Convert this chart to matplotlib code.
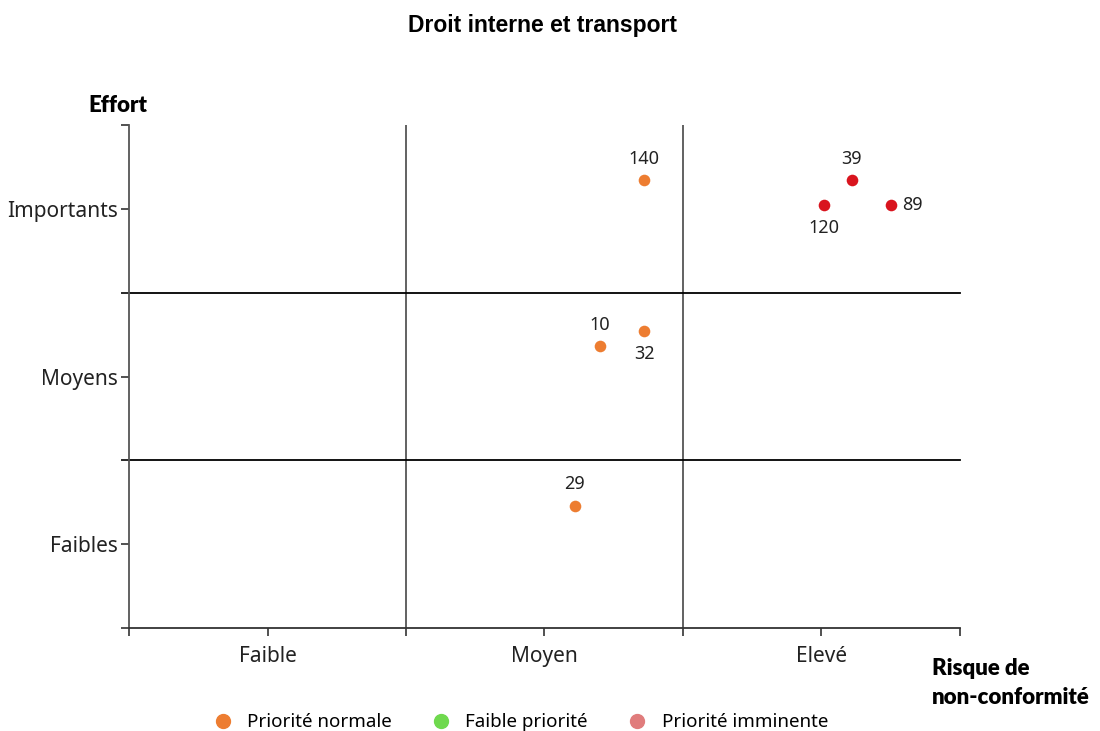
import matplotlib
import matplotlib.pyplot as plt
from matplotlib.lines import Line2D

matplotlib.use('agg')

# data
risk_labels = ['Faible', 'Moyen', 'Elevé']
effort_labels = ['Faibles', 'Moyens', 'Importants']
point_ids = ['140', '39', '120', '89', '10', '32', '29']
point_x = [1.86, 2.61, 2.51, 2.75, 1.70, 1.86, 1.61]
point_y = [2.67, 2.67, 2.52, 2.52, 1.68, 1.77, 0.73]
point_priority = ['normale', 'imminente', 'imminente', 'imminente', 'normale', 'normale', 'normale']
label_pos = ['above', 'above', 'below', 'right', 'above', 'below', 'above']
legend_labels = ['Priorité normale', 'Faible priorité', 'Priorité imminente']

marker_colors = {'normale': '#ED7D31', 'imminente': '#D9141E'}
legend_colors = ['#ED7D31', '#6FD94E', '#E07C7C']

plt.rcParams['font.family'] = ['Noto Sans', 'DejaVu Sans']
BOLD = ['Lato', 'DejaVu Sans']

fig = plt.figure(figsize=(11, 7.31), dpi=100)
ax = fig.add_axes([0.1173, 0.1409, 0.7554, 0.6881])

ax.set_xlim(0, 3)
ax.set_ylim(0, 3)

for v in [1, 2]:
    ax.axvline(v, color='#555555', lw=1.3, zorder=1)
for v in [1, 2]:
    ax.plot([-0.025, 3], [v, v], color='black', lw=1.3, clip_on=False, zorder=1)

for x, y, name, prio, pos in zip(point_x, point_y, point_ids, point_priority, label_pos):
    ax.scatter(x, y, s=70, color=marker_colors[prio], zorder=3, linewidths=0)
    if pos == 'above':
        ax.annotate(name, (x, y), xytext=(0, 9), textcoords='offset points',
                    ha='center', va='bottom', fontsize=13, color='#222222')
    elif pos == 'below':
        ax.annotate(name, (x, y), xytext=(0, -10), textcoords='offset points',
                    ha='center', va='top', fontsize=13, color='#222222')
    else:
        ax.annotate(name, (x, y), xytext=(8, 0), textcoords='offset points',
                    ha='left', va='center', fontsize=13, color='#222222')

ax.set_xticks([0, 0.5, 1, 1.5, 2, 2.5, 3])
ax.set_xticklabels(['', risk_labels[0], '', risk_labels[1], '', risk_labels[2], ''])
ax.set_yticks([0, 0.5, 1, 1.5, 2, 2.5, 3])
ax.set_yticklabels(['', effort_labels[0], '', effort_labels[1], '', effort_labels[2], ''])
ax.tick_params(axis='both', length=6, width=1.2, color='#333333', labelsize=15, labelcolor='#222222')
ax.tick_params(axis='x', pad=7)
ax.tick_params(axis='y', pad=2)

for s in ['top', 'right']:
    ax.spines[s].set_visible(False)
ax.spines['left'].set_color('#555555')
ax.spines['left'].set_linewidth(1.3)
ax.spines['bottom'].set_color('#333333')
ax.spines['bottom'].set_linewidth(1.3)

fig.text(0.493, 0.965, 'Droit interne et transport', ha='center', va='center',
         fontsize=16.5, fontweight='bold', family=['Liberation Sans', 'DejaVu Sans'])
fig.text(0.08, 0.856, 'Effort', ha='left', va='center', fontsize=16, fontweight='heavy',
         family=BOLD)
fig.text(0.847, 0.066, 'Risque de\nnon-conformité', ha='left', va='center',
         fontsize=16, fontweight='heavy', linespacing=1.45, family=BOLD)

handles = [Line2D([], [], marker='o', linestyle='', markersize=10, color=c) for c in legend_colors]
fig.legend(handles, legend_labels, loc='center', bbox_to_anchor=(0.469, 0.012), ncol=3,
           frameon=False, fontsize=13.5, handletextpad=0.3, columnspacing=1.63)

plt.savefig('out.png', dpi=100)
